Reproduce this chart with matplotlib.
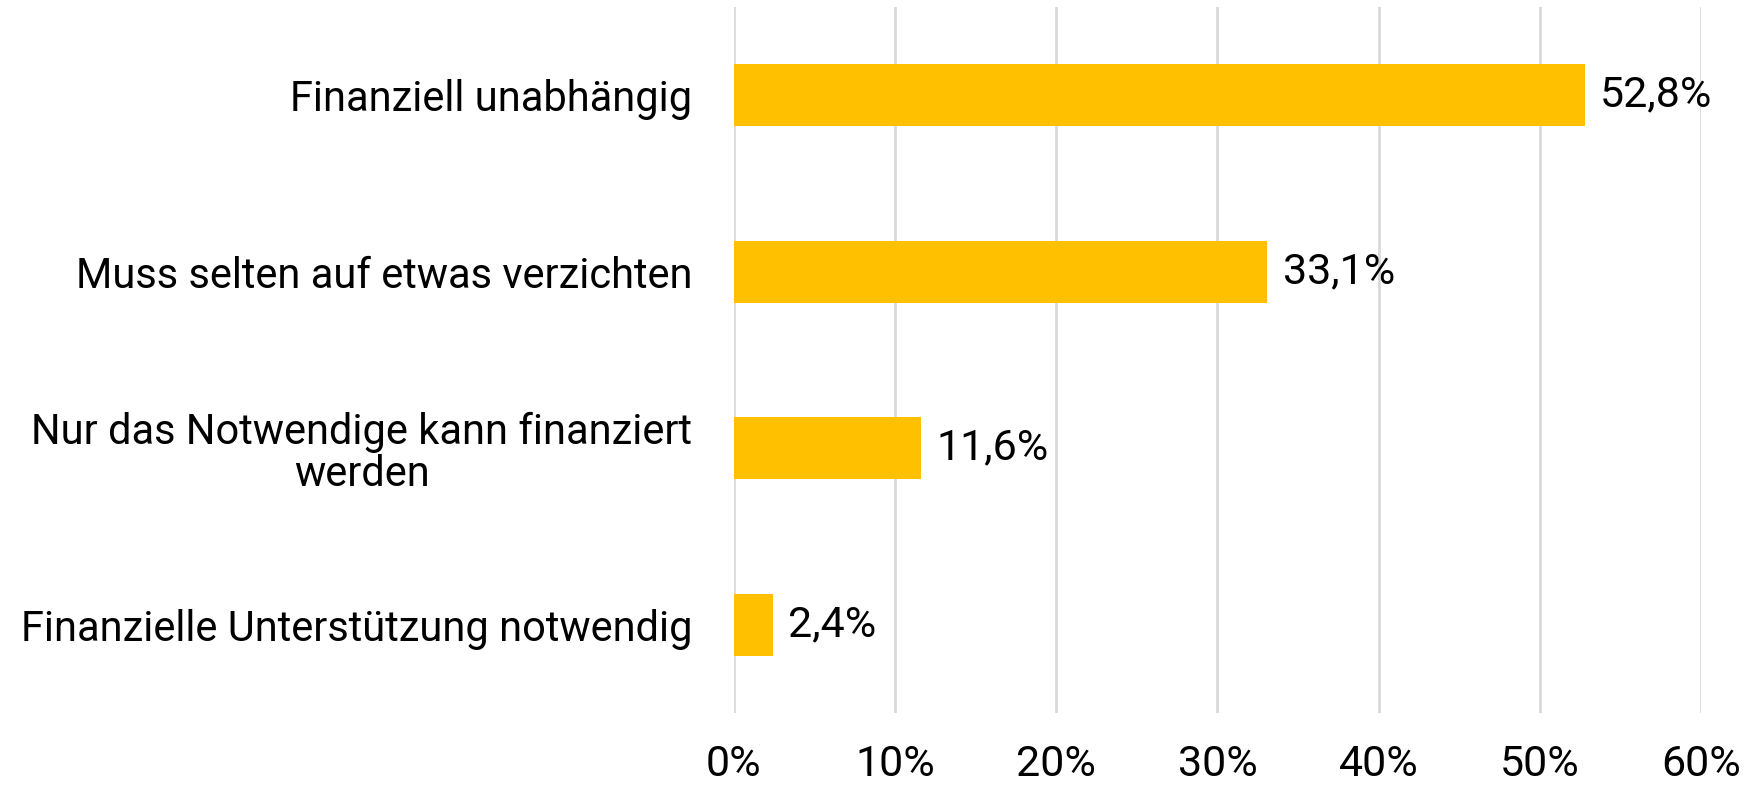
import matplotlib
matplotlib.use("Agg")
import matplotlib.pyplot as plt
from matplotlib.ticker import FuncFormatter

# data
categories = [
    "Finanziell unabhängig",
    "Muss selten auf etwas verzichten",
    "Nur das Notwendige kann finanziert\nwerden",
    "Finanzielle Unterstützung notwendig",
]
shares = [52.8, 33.1, 11.6, 2.4]
x_ticks = [0, 10, 20, 30, 40, 50, 60]

plt.rcParams["font.family"] = ["Roboto", "DejaVu Sans"]


def main():
    fig = plt.figure(figsize=(17.63, 7.86), dpi=100)
    ax = fig.add_axes([0.4163, 0.0929, 0.9648 - 0.4163, 0.9911 - 0.0929])

    ypos = list(range(len(categories)))
    ax.barh(ypos, shares, height=0.35, color="#FFC000", zorder=3)

    for y, v in zip(ypos, shares):
        label = f"{v:.1f}".replace(".", ",") + "%"
        ax.annotate(label, (v, y), xytext=(11, 0), textcoords="offset points",
                    va="center", ha="left", fontsize=31)

    ax.set_xlim(0, 60)
    ax.set_ylim(len(categories) - 0.5, -0.5)
    ax.set_xticks(x_ticks)
    ax.xaxis.set_major_formatter(FuncFormatter(lambda x, _: f"{x:.0f}%"))
    ax.set_yticks(ypos)
    ax.set_yticklabels(categories, multialignment="center", linespacing=1.05)

    ax.tick_params(axis="x", length=0, pad=22, labelsize=31)
    ax.tick_params(axis="y", length=0, pad=30, labelsize=30)
    ax.grid(axis="x", color="#D9D9D9", linewidth=2, zorder=0)
    for s in ax.spines.values():
        s.set_visible(False)

    fig.savefig("out.png", dpi=100)


if __name__ == "__main__":
    main()
